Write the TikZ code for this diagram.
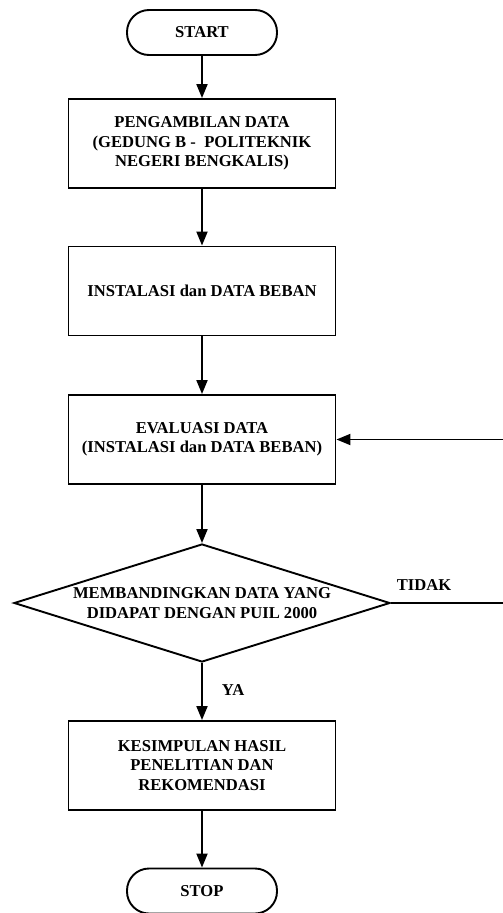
\documentclass[tikz,border=0pt]{standalone}
\usepackage{fontspec}
\setmainfont{Liberation Serif}
\usetikzlibrary{shapes.geometric, arrows.meta}

\begin{document}
\begin{tikzpicture}[x=1pt, y=-1pt, line width=1.9pt,
  font=\bfseries\fontsize{16.6}{19.5}\selectfont,
  terminal/.style={draw, rounded corners=22pt, minimum width=150pt, minimum height=45pt, inner sep=0pt},
  process/.style={draw, minimum width=267pt, minimum height=89pt, align=center, inner sep=0pt},
  decision/.style={draw, diamond, aspect=3.19, minimum width=376pt, minimum height=118pt, align=center, inner sep=0pt},
  flow/.style={-{Triangle[length=14pt, width=11pt]}}]
  \useasboundingbox (0,0) rectangle (503,913);

  \node[terminal] (start) at (202,32.5) {START};
  \node[process] (pengambilan) at (202,143.5) {PENGAMBILAN DATA\\(GEDUNG B -~~POLITEKNIK\\NEGERI BENGKALIS)};
  \node[process] (instalasi) at (202,291) {INSTALASI dan DATA BEBAN};
  \node[process] (evaluasi) at (202,439.5) {EVALUASI DATA\\(INSTALASI dan DATA BEBAN)};
  \node[decision] (banding) at (202,603) {MEMBANDINGKAN DATA YANG\\DIDAPAT DENGAN PUIL 2000};
  \node[process] (kesimpulan) at (202,765.5) {KESIMPULAN HASIL\\PENELITIAN DAN\\REKOMENDASI};
  \node[terminal] (stop) at (202,891) {STOP};

  \draw[flow] (start) -- (pengambilan);
  \draw[flow] (pengambilan) -- (instalasi);
  \draw[flow] (instalasi) -- (evaluasi);
  \draw[flow] (evaluasi) -- (banding);
  \draw[flow] (banding) -- (kesimpulan);
  \draw[flow] (kesimpulan) -- (stop);

  % jalur kembali bila tidak sesuai
  \draw[flow] (banding.east) -- ++(116,0) |- (evaluasi.east);
  \node (tidak) at (424,585) {TIDAK};
  \node (ya) at (233,690) {YA};
\end{tikzpicture}
\end{document}
